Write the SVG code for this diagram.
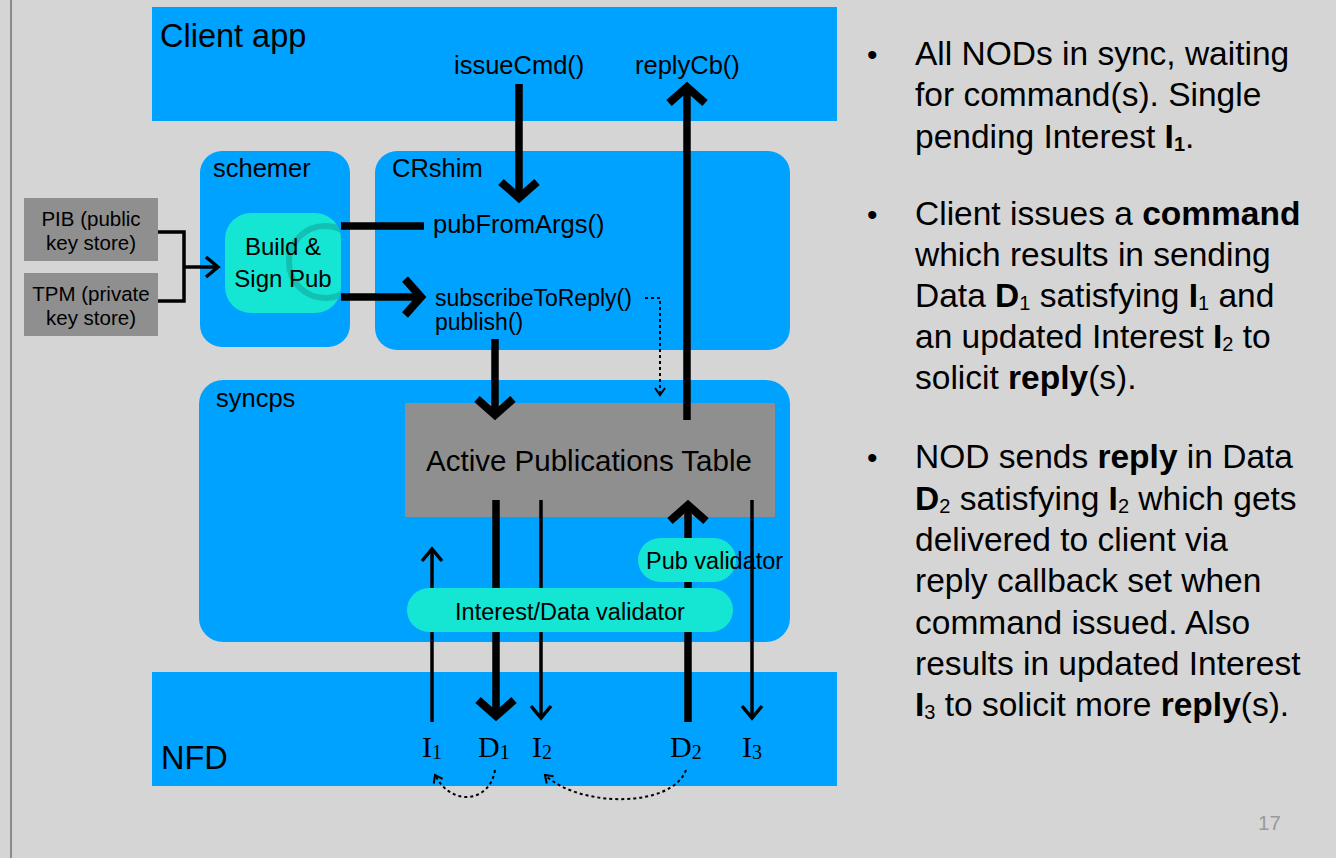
<svg xmlns="http://www.w3.org/2000/svg" width="1336" height="858" viewBox="0 0 1336 858">
  <style>
    .sans { font-family: "Liberation Sans", Arial, Helvetica, sans-serif; fill: #000; }
    .serif { font-family: "Liberation Serif", "Times New Roman", serif; fill: #000; }
    .blue { fill: #00a2ff; }
    .teal { fill: #15e5d3; }
    .grey { fill: #8f8f8f; }
    .thick { stroke: #000; stroke-width: 7.5; fill: none; }
    .thin { stroke: #000; stroke-width: 3.5; fill: none; }
    .dot { stroke: #000; stroke-width: 2; fill: none; stroke-dasharray: 3 3; }
    .bullets { font-size: 33.5px; }
    .sub { font-size: 20px; }
    .b { font-weight: bold; }
  </style>
  <defs>
    <marker id="headL" markerUnits="userSpaceOnUse" viewBox="-30 -25 40 50" markerWidth="40" markerHeight="50" refX="0" refY="0" orient="auto" overflow="visible">
      <path d="M-16,-18 L0,0 L-16,18" fill="none" stroke="#000" stroke-width="8"/>
    </marker>
    <marker id="headS" markerUnits="userSpaceOnUse" viewBox="-20 -15 26 30" markerWidth="26" markerHeight="30" refX="0" refY="0" orient="auto" overflow="visible">
      <path d="M-12,-10 L0,0 L-12,10" fill="none" stroke="#000" stroke-width="3.5"/>
    </marker>
    <marker id="headD" markerUnits="userSpaceOnUse" viewBox="-12 -8 16 16" markerWidth="16" markerHeight="16" refX="0" refY="0" orient="auto" overflow="visible">
      <path d="M-7,-5 L0,0 L-7,5" fill="none" stroke="#000" stroke-width="2"/>
    </marker>
    <clipPath id="buildClip">
      <rect x="225" y="213" width="116" height="100" rx="26"/>
    </clipPath>
  </defs>

  <!-- page -->
  <rect x="0" y="0" width="1336" height="858" fill="#d5d5d5"/>
  <rect x="10" y="0" width="2" height="858" fill="#8a8a8a"/>

  <!-- containers -->
  <g id="client-app">
    <rect class="blue" x="152" y="7" width="685" height="114"/>
    <text class="sans" x="160" y="47" font-size="32.5">Client app</text>
    <text class="sans" x="454" y="74" font-size="25.5">issueCmd()</text>
    <text class="sans" x="635" y="74" font-size="25.5">replyCb()</text>
  </g>

  <g id="schemer">
    <rect class="blue" x="200" y="151" width="150" height="196" rx="22"/>
    <text class="sans" x="213" y="177" font-size="25.5">schemer</text>
  </g>

  <g id="crshim">
    <rect class="blue" x="375" y="151" width="415" height="199" rx="22"/>
    <text class="sans" x="392" y="177" font-size="25.5">CRshim</text>
    <text class="sans" x="433" y="233" font-size="25.5">pubFromArgs()</text>
    <text class="sans" x="435" y="306" font-size="23">subscribeToReply()</text>
    <text class="sans" x="435" y="330" font-size="23">publish()</text>
  </g>

  <g id="syncps">
    <rect class="blue" x="199" y="380" width="591" height="262" rx="24"/>
    <text class="sans" x="216" y="407" font-size="25.5">syncps</text>
  </g>

  <g id="nfd">
    <rect class="blue" x="152" y="672" width="685" height="114"/>
    <text class="sans" x="161" y="769" font-size="32.5">NFD</text>
  </g>

  <g id="active-publications-table">
    <rect class="grey" x="405" y="403" width="370" height="114"/>
    <text class="sans" x="589" y="471" font-size="29.5" text-anchor="middle">Active Publications Table</text>
  </g>

  <g id="pib">
    <rect class="grey" x="24" y="198" width="134" height="63"/>
    <text class="sans" x="91" y="226" font-size="20.5" text-anchor="middle">PIB (public</text>
    <text class="sans" x="91" y="250" font-size="20.5" text-anchor="middle">key store)</text>
  </g>

  <g id="tpm">
    <rect class="grey" x="24" y="273" width="134" height="63"/>
    <text class="sans" x="91" y="301" font-size="20.5" text-anchor="middle">TPM (private</text>
    <text class="sans" x="91" y="325" font-size="20.5" text-anchor="middle">key store)</text>
  </g>

  <g id="build-sign-pub">
    <rect class="teal" x="225" y="213" width="116" height="100" rx="26"/>
    <circle cx="325" cy="262" r="36" fill="none" stroke="#12a99c" stroke-opacity="0.6" stroke-width="6" clip-path="url(#buildClip)"/>
    <text class="sans" x="283" y="255" font-size="24" text-anchor="middle">Build &amp;</text>
    <text class="sans" x="283" y="287" font-size="24" text-anchor="middle">Sign Pub</text>
  </g>

  <!-- connectors -->
  <g id="connectors">
    <!-- key stores into signer -->
    <polyline class="thin" points="158,232 184,232 184,301 158,301"/>
    <line class="thin" x1="184" y1="267" x2="218" y2="267" marker-end="url(#headS)"/>
    <!-- signer into CRshim -->
    <line class="thick" x1="341" y1="226" x2="424" y2="226"/>
    <line class="thick" x1="341" y1="297" x2="421" y2="297" marker-end="url(#headL)"/>
    <!-- client calls -->
    <line class="thick" x1="519" y1="84" x2="519" y2="198" marker-end="url(#headL)"/>
    <line class="thick" x1="687" y1="420" x2="687" y2="87" marker-end="url(#headL)"/>
    <line class="thick" x1="495" y1="339" x2="495" y2="415" marker-end="url(#headL)"/>
    <!-- reply subscription -->
    <polyline class="dot" points="645,298 660,298 660,395" marker-end="url(#headD)"/>
    <!-- table to/from forwarder -->
    <line class="thin" x1="432" y1="722" x2="432" y2="549" marker-end="url(#headS)"/>
    <line class="thick" x1="496" y1="500" x2="496" y2="716" marker-end="url(#headL)"/>
    <line class="thin" x1="541" y1="500" x2="541" y2="718" marker-end="url(#headS)"/>
    <line class="thick" x1="688" y1="722" x2="688" y2="505" marker-end="url(#headL)"/>
    <line class="thin" x1="752" y1="500" x2="752" y2="718" marker-end="url(#headS)"/>
    <!-- satisfaction arcs -->
    <path class="dot" d="M495,770 C490,802 452,808 435,775" marker-end="url(#headD)"/>
    <path class="dot" d="M686,770 C672,808 580,808 545,775" marker-end="url(#headD)"/>
  </g>

  <g id="pub-validator">
    <rect class="teal" x="638" y="538" width="98" height="44" rx="22"/>
    <text class="sans" x="646" y="569" font-size="23.5">Pub validator</text>
  </g>

  <g id="interest-data-validator">
    <rect class="teal" x="407" y="588" width="326" height="44" rx="22"/>
    <text class="sans" x="570" y="620" font-size="23.5" text-anchor="middle">Interest/Data validator</text>
  </g>

  <g id="nfd-packets">
    <text class="serif" x="422" y="757" font-size="30">I<tspan class="sub" dy="2">1</tspan></text>
    <text class="serif" x="478" y="757" font-size="30">D<tspan class="sub" dy="2">1</tspan></text>
    <text class="serif" x="532" y="757" font-size="30">I<tspan class="sub" dy="2">2</tspan></text>
    <text class="serif" x="670" y="757" font-size="30">D<tspan class="sub" dy="2">2</tspan></text>
    <text class="serif" x="742" y="757" font-size="30">I<tspan class="sub" dy="2">3</tspan></text>
  </g>

  <!-- explanatory bullets -->
  <g id="notes" class="sans bullets">
    <text x="867" y="65" font-size="30">•</text>
    <text x="915" y="65">All NODs in sync, waiting</text>
    <text x="915" y="106">for command(s). Single</text>
    <text x="915" y="148">pending Interest <tspan class="b">I</tspan><tspan class="sub b" dy="3">1</tspan><tspan dy="-3">.</tspan></text>

    <text x="867" y="225" font-size="30">•</text>
    <text x="915" y="225">Client issues a <tspan class="b">command</tspan></text>
    <text x="915" y="266">which results in sending</text>
    <text x="915" y="307">Data <tspan class="b">D</tspan><tspan class="sub" dy="3">1</tspan><tspan dy="-3"> satisfying </tspan><tspan class="b">I</tspan><tspan class="sub" dy="3">1</tspan><tspan dy="-3"> and</tspan></text>
    <text x="915" y="348">an updated Interest <tspan class="b">I</tspan><tspan class="sub" dy="3">2</tspan><tspan dy="-3"> to</tspan></text>
    <text x="915" y="389">solicit <tspan class="b">reply</tspan>(s).</text>

    <text x="867" y="468" font-size="30">•</text>
    <text x="915" y="468">NOD sends <tspan class="b">reply</tspan> in Data</text>
    <text x="915" y="510"><tspan class="b">D</tspan><tspan class="sub" dy="3">2</tspan><tspan dy="-3"> satisfying </tspan><tspan class="b">I</tspan><tspan class="sub" dy="3">2</tspan><tspan dy="-3"> which gets</tspan></text>
    <text x="915" y="551">delivered to client via</text>
    <text x="915" y="592">reply callback set when</text>
    <text x="915" y="634">command issued. Also</text>
    <text x="915" y="675">results in updated Interest</text>
    <text x="915" y="716"><tspan class="b">I</tspan><tspan class="sub" dy="3">3</tspan><tspan dy="-3"> to solicit more </tspan><tspan class="b">reply</tspan>(s).</text>
  </g>

  <text class="sans" x="1258" y="830" font-size="20.5" style="fill:#9a9a9a">17</text>
</svg>
